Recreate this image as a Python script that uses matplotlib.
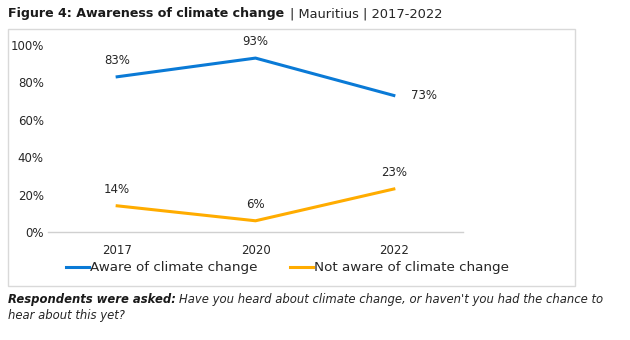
"""
Figure 4: awareness of climate change in Mauritius, 2017-2022.
"""

import matplotlib.pyplot as plt
from matplotlib.patches import Rectangle

years = ["2017", "2020", "2022"]
aware = [83, 93, 73]
not_aware = [14, 6, 23]
y_ticks = [0, 20, 40, 60, 80, 100]

BLUE = "#0A7AD6"
ORANGE = "#FFAC00"
TEXT = "#262626"

plt.rcParams["font.family"] = ["DejaVu Sans"]

fig = plt.figure(figsize=(6.3, 3.4), dpi=100)

# outer frame around the chart
fig.patches.append(Rectangle((8 / 630, 54 / 340), 567 / 630, 257 / 340,
                             transform=fig.transFigure, fill=False,
                             edgecolor="#D9D9D9", linewidth=1.0))

ax = fig.add_axes([48 / 630, 108 / 340, 415 / 630, 187 / 340])
x = range(len(years))
l1, = ax.plot(x, aware, color=BLUE, linewidth=2.2,
              label="Aware of climate change")
l2, = ax.plot(x, not_aware, color=ORANGE, linewidth=2.2,
              label="Not aware of climate change")

ax.set_xlim(-0.5, len(years) - 0.5)
ax.set_ylim(0, 100)
ax.axhline(0, color="#D0D0D0", linewidth=1.0, zorder=0, clip_on=False)
for s in ax.spines.values():
    s.set_visible(False)
ax.set_yticks(y_ticks)
ax.set_yticklabels([f"{v}%" for v in y_ticks], fontsize=8.5, color=TEXT)
ax.set_xticks(list(x))
ax.set_xticklabels(years, fontsize=8.5, color=TEXT)
ax.tick_params(length=0, pad=3)
ax.tick_params(axis="x", pad=9)

# value labels
for i, v in enumerate(aware):
    if i == len(aware) - 1:
        ax.annotate(f"{v}%", (i, v), xytext=(12, 0), textcoords="offset points",
                    ha="left", va="center", fontsize=8.5, color=TEXT)
    else:
        ax.annotate(f"{v}%", (i, v), xytext=(0, 7), textcoords="offset points",
                    ha="center", va="bottom", fontsize=8.5, color=TEXT)
for i, v in enumerate(not_aware):
    ax.annotate(f"{v}%", (i, v), xytext=(0, 7), textcoords="offset points",
                ha="center", va="bottom", fontsize=8.5, color=TEXT)

fig.legend(handles=[l1, l2], loc="center", bbox_to_anchor=(0.456, 1 - 268 / 340),
           ncol=2, frameon=False, fontsize=9.7, handlelength=1.7,
           handletextpad=0.1, columnspacing=2.4, labelcolor=TEXT)

# title: bold part followed by the regular part
t1 = fig.text(8 / 630, 1 - 14 / 340, "Figure 4: Awareness of climate change",
              fontsize=9.1, fontweight="bold", color="#1A1A1A", va="center")
fig.canvas.draw()
bb = t1.get_window_extent()
fig.text((bb.x1 + 6) / 630, 1 - 14 / 340, "| Mauritius | 2017-2022",
         fontsize=9.4, color=TEXT, va="center")

# footnote
t2 = fig.text(8 / 630, 1 - 300 / 340, "Respondents were asked:",
              fontsize=8.4, fontweight="bold", style="italic", color="#1A1A1A",
              va="center")
fig.canvas.draw()
bb = t2.get_window_extent()
fig.text((bb.x1 + 3) / 630, 1 - 300 / 340,
         "Have you heard about climate change, or haven't you had the chance to",
         fontsize=8.4, style="italic", color=TEXT, va="center")
fig.text(8 / 630, 1 - 315 / 340, "hear about this yet?",
         fontsize=8.4, style="italic", color=TEXT, va="center")

fig.savefig("out.png", dpi=100)
